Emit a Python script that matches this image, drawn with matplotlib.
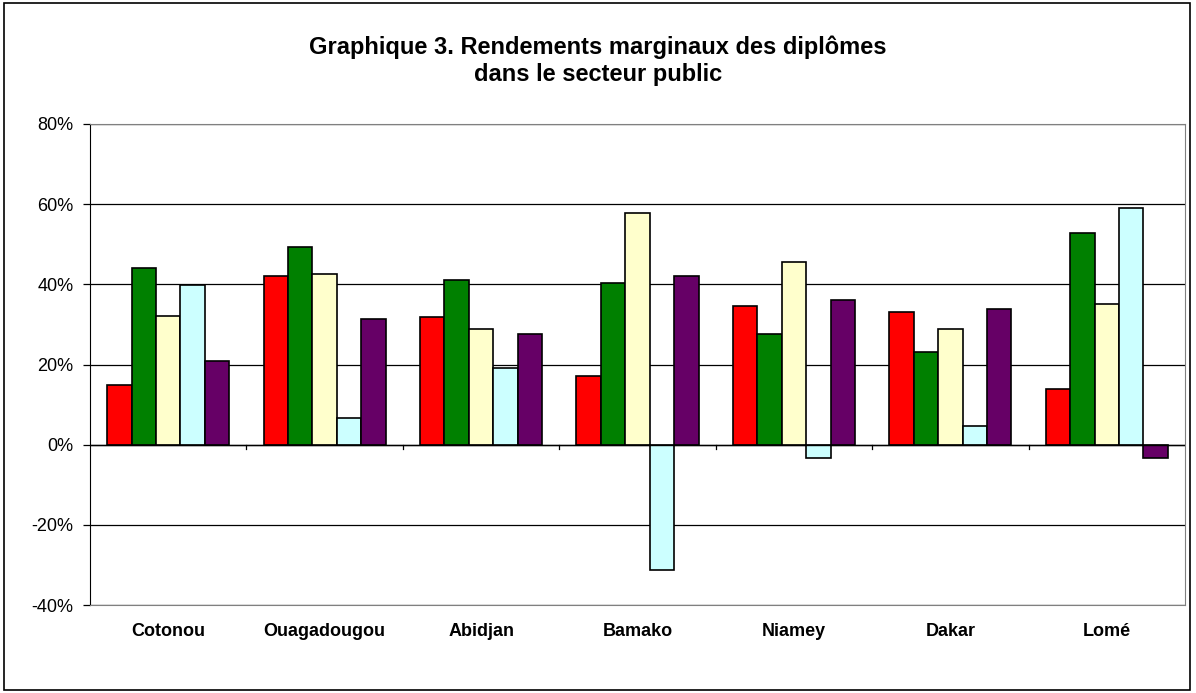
import numpy as np
import matplotlib.pyplot as plt
from matplotlib.patches import Rectangle
from matplotlib.ticker import FuncFormatter

plt.rcParams['font.family'] = ['Liberation Sans', 'DejaVu Sans']

# données (en %)
villes = ['Cotonou', 'Ouagadougou', 'Abidjan', 'Bamako', 'Niamey', 'Dakar', 'Lomé']
serie1 = [14.9, 42.0, 31.8, 17.2, 34.6, 33.2, 13.8]
serie2 = [44.1, 49.2, 41.2, 40.3, 27.5, 23.0, 52.7]
serie3 = [32.1, 42.7, 28.9, 57.9, 45.6, 28.9, 35.0]
serie4 = [39.9, 6.7, 19.1, -31.2, -3.3, 4.6, 59.0]
serie5 = [20.9, 31.4, 27.5, 42.1, 36.0, 33.8, -3.3]
couleurs = ['#FF0000', '#008000', '#FFFFCC', '#CCFFFF', '#660066']

series = [serie1, serie2, serie3, serie4, serie5]

fig = plt.figure(figsize=(11.96, 6.93), dpi=100)
ax = fig.add_axes([90 / 1196, 1 - 605 / 693, 1095 / 1196, 481 / 693])

# cadre extérieur
fig.patches.append(Rectangle((4 / 1196, 3 / 693), 1186 / 1196, 687 / 693,
                             transform=fig.transFigure, fill=False,
                             edgecolor='black', linewidth=1.2))

x = np.arange(len(villes))
largeur = 0.156
for i, (vals, c) in enumerate(zip(series, couleurs)):
    ax.bar(x + (i - 2) * largeur, vals, largeur, color=c, edgecolor='black',
           linewidth=1.2, zorder=3)

ax.set_xlim(-0.5, len(villes) - 0.5)
ax.set_ylim(-40, 80)
ax.set_yticks(np.arange(-40, 81, 20))
ax.yaxis.set_major_formatter(FuncFormatter(lambda v, p: f'{v:.0f}%'))
ax.grid(axis='y', color='black', linewidth=0.9, zorder=0)
ax.axhline(0, color='black', linewidth=1.0, zorder=4)

# graduations entre les catégories sur l'axe à 0
ax.set_xticks([])
for b in np.arange(0.5, len(villes) - 0.5):
    ax.plot([b, b], [0, -1.2], color='black', linewidth=0.9, clip_on=False, zorder=4)
for xi, v in zip(x, villes):
    ax.text(xi, -46.5, v, ha='center', va='center', fontsize=13, fontweight='bold')

ax.tick_params(axis='y', labelsize=13, length=5, width=0.9, direction='out', pad=7)
for s in ['top', 'right', 'bottom']:
    ax.spines[s].set_color('#808080')
ax.spines['left'].set_color('black')

fig.text(0.5, 1 - 47 / 693, 'Graphique 3. Rendements marginaux des diplômes',
         ha='center', va='center', fontsize=17, fontweight='bold')
fig.text(0.5, 1 - 75 / 693, 'dans le secteur public',
         ha='center', va='center', fontsize=17, fontweight='bold')

fig.savefig('out.png', dpi=100)
